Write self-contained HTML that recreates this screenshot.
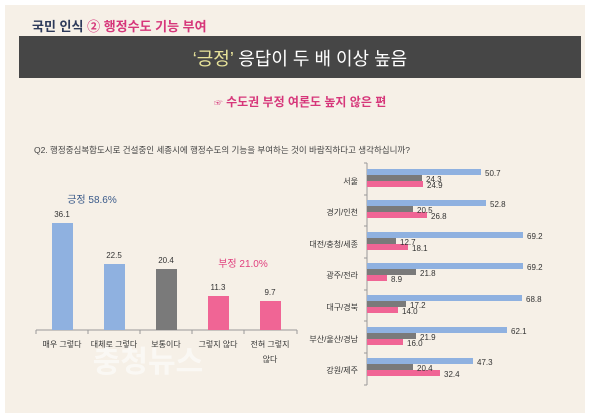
<!DOCTYPE html>
<html><head><meta charset="utf-8"><style>
body{margin:0;background:#fff;}
svg{display:block;font-family:"Liberation Sans","Noto Sans CJK KR",sans-serif;}
</style></head><body>
<svg width="600" height="415" viewBox="0 0 600 415" xmlns="http://www.w3.org/2000/svg">
<rect x="5" y="5" width="580" height="408" fill="#f6f0e7"/>
<text x="32" y="31" font-size="13" font-weight="bold" fill="#2d3a5a">국민 인식 <tspan fill="#d6367a">② 행정수도 기능 부여</tspan></text>
<rect x="19" y="36" width="562" height="42" fill="#464646"/>
<text x="300" y="65" font-size="18" fill="#fff" text-anchor="middle"><tspan fill="#e8e39a">‘긍정’</tspan>  응답이 두 배 이상 높음</text>
<text x="300" y="106" font-size="12" font-weight="bold" fill="#d6367a" text-anchor="middle"><tspan font-size="9">☞</tspan> 수도권 부정 여론도 높지 않은 편</text>
<text x="34" y="153" font-size="8.5" fill="#444">Q2. 행정중심복합도시로 건설중인 세종시에 행정수도의 기능을 부여하는 것이 바람직하다고 생각하십니까?</text>
<g font-size="8" fill="#333" text-anchor="middle">
<line x1="36" y1="330" x2="297" y2="330" stroke="#999"/>
<g stroke="#999"><line x1="36" y1="330" x2="36" y2="334"/><line x1="88" y1="330" x2="88" y2="334"/><line x1="140" y1="330" x2="140" y2="334"/><line x1="192" y1="330" x2="192" y2="334"/><line x1="244" y1="330" x2="244" y2="334"/><line x1="297" y1="330" x2="297" y2="334"/></g>
<rect x="52" y="223" width="21" height="107" fill="#8fb1e0"/>
<rect x="104" y="264" width="21" height="66" fill="#8fb1e0"/>
<rect x="156" y="269" width="21" height="61" fill="#7a7a7a"/>
<rect x="208" y="296" width="21" height="34" fill="#f06595"/>
<rect x="260" y="301" width="21" height="29" fill="#f06595"/>
<text x="62" y="217">36.1</text><text x="114" y="258">22.5</text><text x="166" y="263">20.4</text><text x="218" y="290">11.3</text><text x="270" y="295">9.7</text>
<text x="62" y="347">매우 그렇다</text><text x="114" y="347">대체로 그렇다</text><text x="166" y="347">보통이다</text><text x="218" y="347">그렇지 않다</text><text x="270" y="347">전혀 그렇지</text><text x="270" y="362">않다</text>
<text x="92" y="203" font-size="10" fill="#3a5a8a">긍정 58.6%</text>
<text x="243" y="267" font-size="10" fill="#e0407e">부정 21.0%</text>
</g>
<text x="148" y="372" font-size="30" font-weight="bold" fill="#fff" opacity="0.55" text-anchor="middle">충청뉴스</text>
<g font-size="8" fill="#333">
<line x1="367" y1="163" x2="367" y2="385" stroke="#999"/>
<g stroke="#999"><line x1="364" y1="163" x2="367" y2="163"/><line x1="364" y1="195" x2="367" y2="195"/><line x1="364" y1="226" x2="367" y2="226"/><line x1="364" y1="258" x2="367" y2="258"/><line x1="364" y1="290" x2="367" y2="290"/><line x1="364" y1="321" x2="367" y2="321"/><line x1="364" y1="353" x2="367" y2="353"/><line x1="364" y1="385" x2="367" y2="385"/></g>
<rect x="367" y="169" width="114" height="6" fill="#8fb1e0"/><rect x="367" y="175" width="55" height="6" fill="#7a7a7a"/><rect x="367" y="181" width="56" height="6" fill="#f06595"/>
<text x="485" y="176">50.7</text><text x="426" y="182">24.3</text><text x="427" y="188">24.9</text><text x="358" y="184" text-anchor="end">서울</text>
<rect x="367" y="200" width="119" height="6" fill="#8fb1e0"/><rect x="367" y="206" width="46" height="6" fill="#7a7a7a"/><rect x="367" y="212" width="60" height="6" fill="#f06595"/>
<text x="490" y="207">52.8</text><text x="417" y="213">20.5</text><text x="431" y="219">26.8</text><text x="358" y="215" text-anchor="end">경기/인천</text>
<rect x="367" y="232" width="156" height="6" fill="#8fb1e0"/><rect x="367" y="238" width="29" height="6" fill="#7a7a7a"/><rect x="367" y="244" width="41" height="6" fill="#f06595"/>
<text x="527" y="239">69.2</text><text x="400" y="245">12.7</text><text x="412" y="251">18.1</text><text x="358" y="247" text-anchor="end">대전/충청/세종</text>
<rect x="367" y="263" width="156" height="6" fill="#8fb1e0"/><rect x="367" y="269" width="49" height="6" fill="#7a7a7a"/><rect x="367" y="275" width="20" height="6" fill="#f06595"/>
<text x="527" y="270">69.2</text><text x="420" y="276">21.8</text><text x="391" y="282">8.9</text><text x="358" y="278" text-anchor="end">광주/전라</text>
<rect x="367" y="295" width="155" height="6" fill="#8fb1e0"/><rect x="367" y="301" width="39" height="6" fill="#7a7a7a"/><rect x="367" y="307" width="31" height="6" fill="#f06595"/>
<text x="526" y="302">68.8</text><text x="410" y="308">17.2</text><text x="402" y="314">14.0</text><text x="358" y="310" text-anchor="end">대구/경북</text>
<rect x="367" y="327" width="140" height="6" fill="#8fb1e0"/><rect x="367" y="333" width="49" height="6" fill="#7a7a7a"/><rect x="367" y="339" width="36" height="6" fill="#f06595"/>
<text x="511" y="334">62.1</text><text x="420" y="340">21.9</text><text x="407" y="346">16.0</text><text x="358" y="342" text-anchor="end">부산/울산/경남</text>
<rect x="367" y="358" width="106" height="6" fill="#8fb1e0"/><rect x="367" y="364" width="46" height="6" fill="#7a7a7a"/><rect x="367" y="370" width="73" height="6" fill="#f06595"/>
<text x="477" y="365">47.3</text><text x="417" y="371">20.4</text><text x="444" y="377">32.4</text><text x="358" y="373" text-anchor="end">강원/제주</text>
</g>
</svg>
</body></html>
